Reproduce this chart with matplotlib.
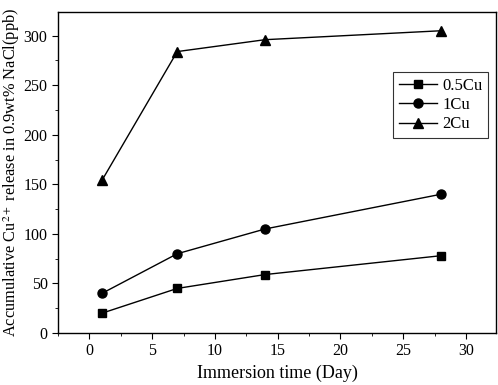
import matplotlib.pyplot as plt
from matplotlib.ticker import MultipleLocator

plt.rcParams['font.family'] = ['Liberation Serif', 'DejaVu Serif']
plt.rcParams['mathtext.fontset'] = 'stix'

# Data
days = [1, 7, 14, 28]
cu05 = [20, 45, 59, 78]
cu1 = [40, 80, 105, 140]
cu2 = [154, 284, 296, 305]

fig = plt.figure(figsize=(4.98, 3.85), dpi=100)
ax = fig.add_axes([0.1165, 0.135, 0.8795, 0.834])

ax.plot(days, cu05, color="black", marker="s", markersize=6, linewidth=1, label="0.5Cu")
ax.plot(days, cu1, color="black", marker="o", markersize=6.5, linewidth=1, label="1Cu")
ax.plot(days, cu2, color="black", marker="^", markersize=7, linewidth=1, label="2Cu")

ax.set_xlim(-2.5, 32.4)
ax.set_ylim(0, 324)
ax.xaxis.set_major_locator(MultipleLocator(5))
ax.xaxis.set_minor_locator(MultipleLocator(2.5))
ax.yaxis.set_major_locator(MultipleLocator(50))
ax.yaxis.set_minor_locator(MultipleLocator(25))
ax.tick_params(which="both", direction="out", top=False, right=False, labelsize=11.5)
ax.tick_params(which="major", length=4)
ax.tick_params(which="minor", length=2.5)
for s in ax.spines.values():
    s.set_linewidth(1)

ax.set_xlabel("Immersion time (Day)", fontsize=13)
ax.set_ylabel(r"Accumulative Cu$^{2+}$ release in 0.9wt% NaCl(ppb)", fontsize=11.8, labelpad=1)

leg = ax.legend(loc="upper right", bbox_to_anchor=(0.982, 0.813), borderaxespad=0, fontsize=12,
                fancybox=False, edgecolor="black", handlelength=2.3,
                borderpad=0.35, labelspacing=0.2, handletextpad=0.3)
leg.get_frame().set_linewidth(0.8)

fig.savefig("out.png", dpi=100)
